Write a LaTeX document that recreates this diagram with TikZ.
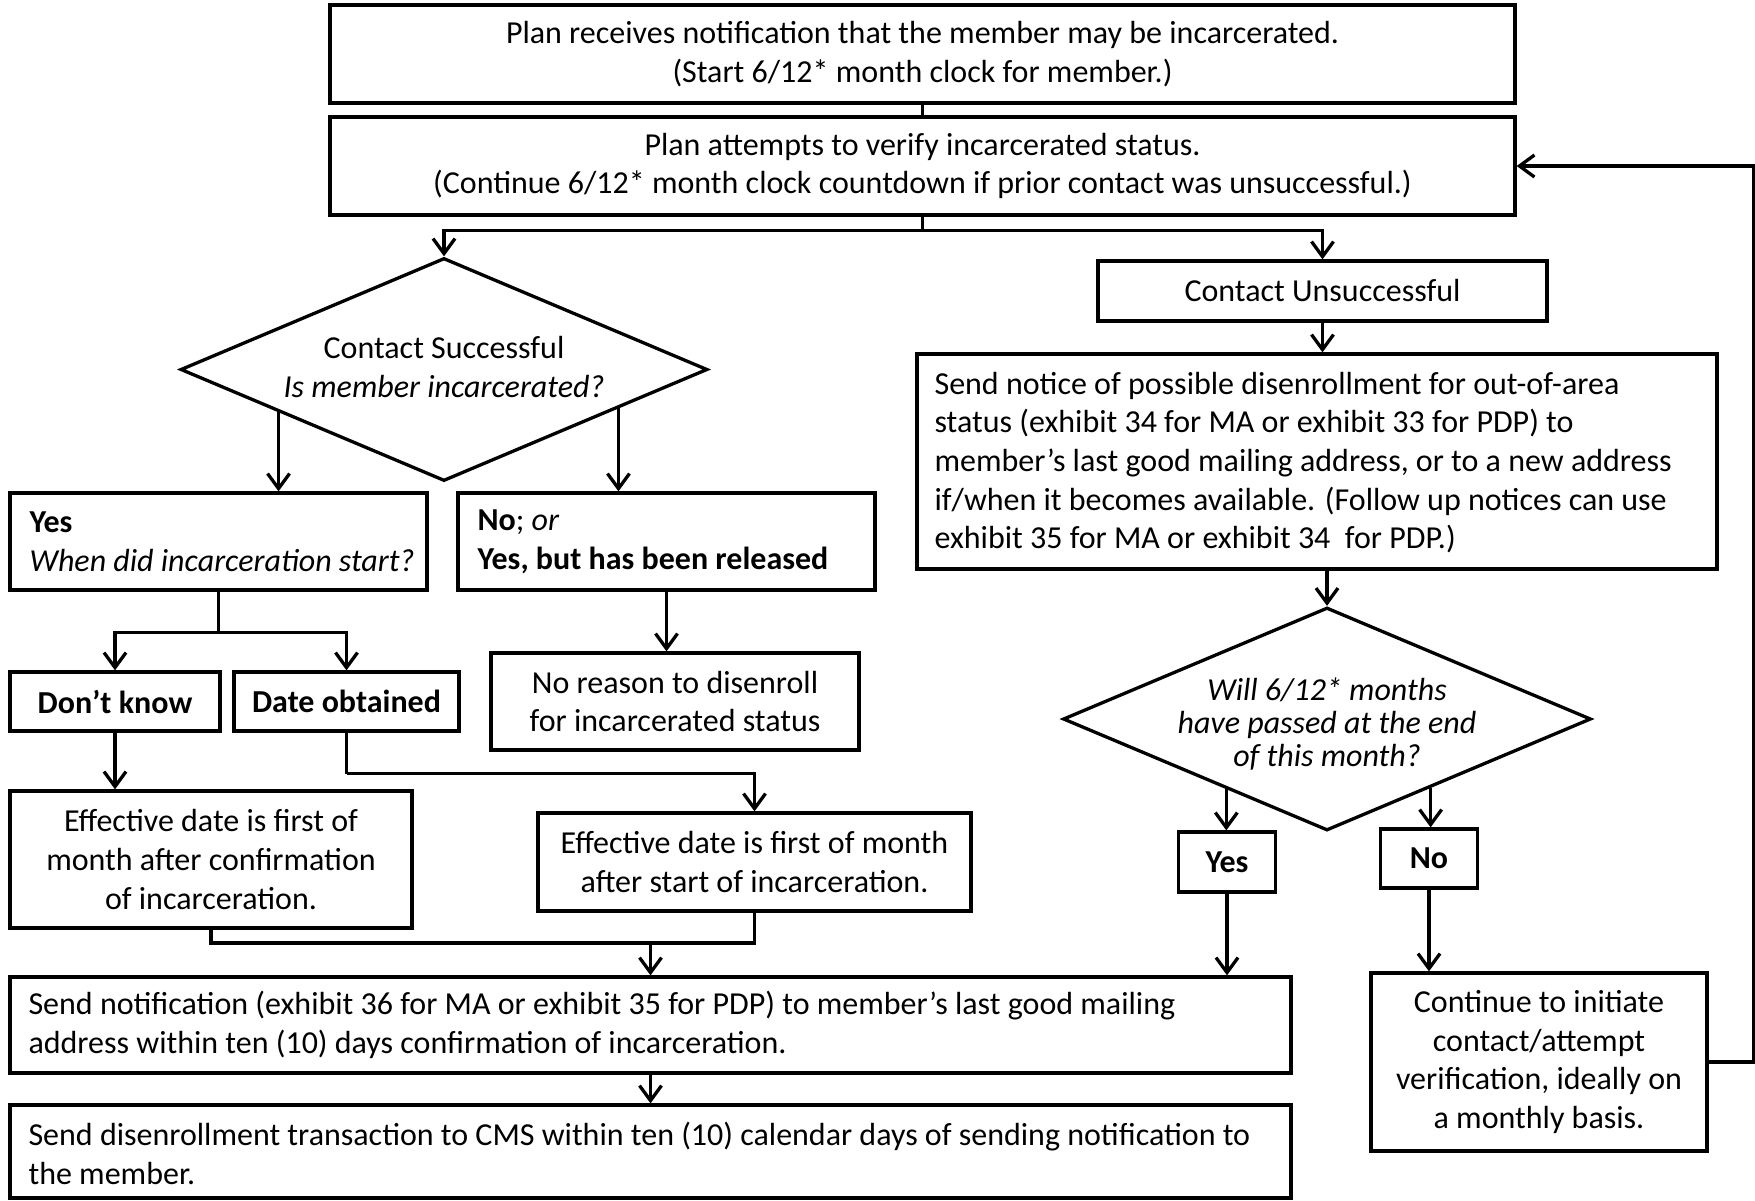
\documentclass[tikz,border=0pt]{standalone}
\usepackage{fontspec}
\setmainfont{Carlito}
\usetikzlibrary{shapes.geometric,arrows.meta,calc}
\begin{document}
\begin{tikzpicture}[x=1pt,y=-1pt,
  every node/.style={font=\fontsize{32}{38.7}\selectfont},
  box/.style={draw, line width=3.3pt, inner sep=0pt, align=center},
  txt/.style={inner sep=0pt, align=left, anchor=west},
  conn/.style={line width=3.3pt},
  arr/.style={line width=3.3pt, -{Straight Barb[length=15pt,width=22pt]}},
  dia/.style={draw, diamond, line width=3.3pt, inner sep=0pt},
]
\useasboundingbox (0,0) rectangle (1755,1200);
\fill[white] (0,0) rectangle (1755,1200);

% top boxes
\node[box, minimum width=1185, minimum height=98] (b1) at (922.5,54)
  {Plan receives notification that the member may be incarcerated.\\(Start 6/12* month clock for member.)};
\node[box, minimum width=1185, minimum height=98] (b2) at (922.5,166)
  {Plan attempts to verify incarcerated status.\\(Continue 6/12* month clock countdown if prior contact was unsuccessful.)};

% left decision
\node[dia, minimum width=527, minimum height=223] (d1) at (444,369.5) {};
\node[inner sep=0pt, align=center] (d1t) at (444,367) {Contact Successful\\\textit{Is member incarcerated?}};

\node[box, minimum width=417, minimum height=97] (yesA) at (218.5,541.5) {};
\node[txt] (yesAt) at ($(yesA.west)+(21,0)$) {\textbf{Yes}\\\textit{When did incarceration start?}};
\node[box, minimum width=417, minimum height=97] (noA) at (666.5,541.5) {};
\node[txt] (noAt) at ($(noA.west)+(21,0)$) {\textbf{No}; \textit{or}\\\textbf{Yes, but has been released}};

\node[box, minimum width=210, minimum height=59] (dk) at (115,701.5) {\textbf{Don’t know}};
\node[box, minimum width=225, minimum height=59] (dob) at (346.5,701.5) {\textbf{Date obtained}};
\node[box, minimum width=368, minimum height=97] (noreason) at (675,701.5) {No reason to disenroll\\for incarcerated status};

\node[box, minimum width=402, minimum height=137] (eff1) at (211,859.5) {Effective date is first of\\month after confirmation\\of incarceration.};
\node[box, minimum width=433, minimum height=98] (eff2) at (754.5,862) {Effective date is first of month\\after start of incarceration.};

\node[box, minimum width=1281, minimum height=96] (notify) at (650.5,1025) {};
\node[txt] (notifyt) at ($(notify.west)+(20,0)$) {Send notification (exhibit 36 for MA or exhibit 35 for PDP) to member’s last good mailing\\address within ten (10) days confirmation of incarceration.};
\node[box, minimum width=1281, minimum height=93] (disen) at (650.5,1151.5) {};
\node[txt] (disent) at ($(disen.west)+(20,2)$) {Send disenrollment transaction to CMS within ten (10) calendar days of sending notification to\\the member.};

% right side
\node[box, minimum width=449, minimum height=60] (cu) at (1322.5,291) {Contact Unsuccessful};
\node[box, minimum width=800, minimum height=215] (big) at (1317,461.5) {};
\node[txt] (bigt) at ($(big.west)+(19,1)$) {Send notice of possible disenrollment for out-of-area\\status (exhibit 34 for MA or exhibit 33 for PDP) to\\member’s last good mailing address, or to a new address\\if/when it becomes available. (Follow up notices can use\\exhibit 35 for MA or exhibit 34~ for PDP.)};

\node[dia, minimum width=528, minimum height=223] (d2) at (1327,719) {};
\node[inner sep=0pt, align=center, font=\fontsize{32}{33}\selectfont\itshape] (d2t) at (1327,724)
  {Will 6/12* months\\have passed at the end\\of this month?};

\node[box, minimum width=97, minimum height=60] (yesB) at (1227,862) {\textbf{Yes}};
\node[box, minimum width=97, minimum height=59] (noB) at (1429,858.5) {\textbf{No}};
\node[box, minimum width=336, minimum height=178] (cont) at (1539,1062) {Continue to initiate\\contact/attempt\\verification, ideally on\\a monthly basis.};

% connectors
\coordinate (split) at ($(b2.south)+(0,14)$);
\draw[conn] (b1.south) -- (b2.north);
\draw[conn] (b2.south) -- (split);
\draw[arr] (split) -| (d1.north);
\draw[arr] (split) -| (cu.north);

\coordinate (d1l) at ($(d1.west)!0.376!(d1.south)$);
\coordinate (d1r) at ($(d1.south)!0.658!(d1.east)$);
\draw[arr] (d1l) -- (d1l |- yesA.north);
\draw[arr] (d1r) -- (d1r |- noA.north);

\coordinate (ysplit) at ($(yesA.south)+(0,41)$);
\draw[conn] (yesA.south) -- (ysplit);
\draw[arr] (ysplit) -| (dk.north);
\draw[arr] (ysplit) -| (dob.north);
\draw[arr] (noA.south) -- (noA.south |- noreason.north);
\draw[arr] (dk.south) -- (dk.south |- eff1.north);
\coordinate (dobk) at ($(dob.south)+(0,41)$);
\draw[conn] (dob.south) -- (dobk);
\draw[arr] (dobk) -| (eff2.north);

\coordinate (mergey) at (0,943);
\coordinate (merge) at (notify.north |- mergey);
\draw[conn] (eff1.south) |- (eff2.south |- mergey) -- (eff2.south);
\draw[arr] (merge) -- (notify.north);
\draw[arr] (notify.south) -- (disen.north);

\draw[arr] (cu.south) -- (cu.south |- big.north);
\draw[arr] (d2.north |- big.south) -- (d2.north);

\coordinate (d2l) at ($(d2.west)!0.621!(d2.south)$);
\coordinate (d2r) at ($(d2.south)!0.39!(d2.east)$);
\draw[arr] (d2l) -- (d2l |- yesB.north);
\draw[arr] (d2r) -- (d2r |- noB.north);
\draw[arr] (yesB.south) -- (yesB.south |- notify.north);
\draw[arr] (noB.south) -- (noB.south |- cont.north);
\draw[arr] (cont.east) -- ++(45,0) |- (b2.east);
\end{tikzpicture}
\end{document}
